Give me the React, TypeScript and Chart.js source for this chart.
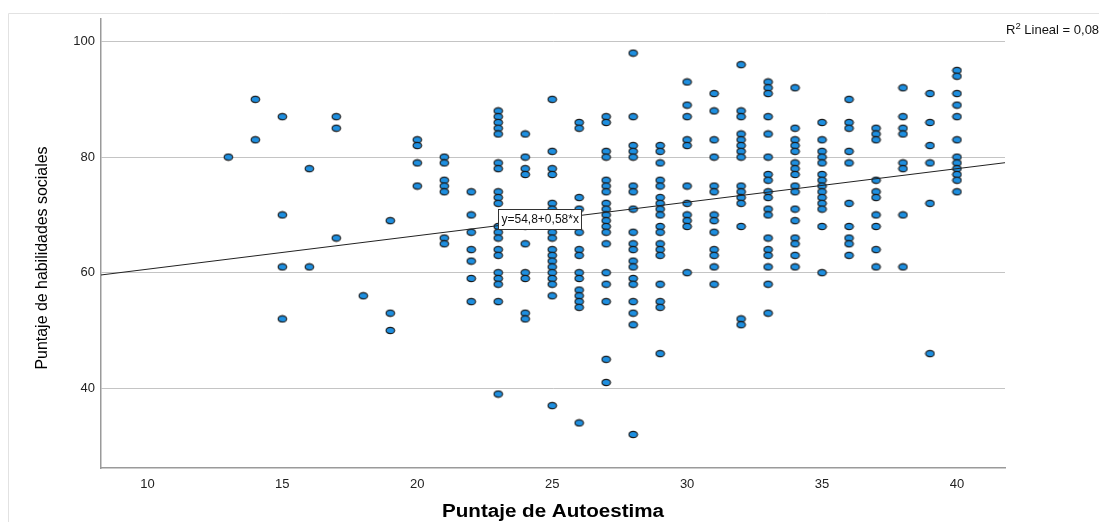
import React, { useEffect, useRef } from "react";
import { Chart, registerables } from "chart.js";

Chart.register(...registerables);

// Autoestima scores (x) and the habilidades sociales scores (y) observed at each
const autoestimaValues = [13, 14, 15, 16, 17, 18, 19, 20, 21, 22, 23, 24, 25, 26, 27, 28, 29, 30, 31, 32, 33, 34, 35, 36, 37, 38, 39, 40];
const habilidadesPorAutoestima = [
  [80],
  [90, 83],
  [87, 70, 61, 52],
  [78, 61],
  [87, 85, 66],
  [56],
  [69, 53, 50],
  [83, 82, 79, 75],
  [80, 79, 76, 75, 74, 66, 65],
  [74, 70, 67, 64, 62, 59, 55],
  [88, 87, 86, 85, 84, 79, 78, 74, 73, 72, 68, 67, 66, 64, 63, 60, 59, 58, 55, 39],
  [84, 80, 78, 77, 68, 65, 60, 59, 53, 52],
  [90, 81, 78, 77, 72, 71, 70, 67, 66, 64, 63, 62, 61, 60, 59, 58, 56, 37],
  [86, 85, 73, 71, 67, 64, 63, 60, 59, 57, 56, 55, 54, 34],
  [87, 86, 81, 80, 76, 75, 74, 72, 71, 70, 69, 68, 67, 65, 60, 58, 55, 45, 41],
  [98, 87, 82, 81, 80, 75, 74, 71, 67, 65, 64, 62, 61, 59, 58, 55, 53, 51, 32],
  [82, 81, 79, 76, 75, 73, 72, 71, 70, 68, 67, 65, 64, 63, 58, 55, 54, 46],
  [93, 89, 87, 83, 82, 75, 72, 70, 69, 68, 60],
  [91, 88, 83, 80, 75, 74, 70, 69, 67, 64, 63, 61, 58],
  [96, 88, 87, 84, 83, 82, 81, 80, 75, 74, 73, 72, 68, 52, 51],
  [93, 92, 91, 87, 84, 80, 77, 76, 74, 73, 71, 70, 66, 64, 63, 61, 58, 53],
  [92, 85, 83, 82, 81, 79, 78, 77, 75, 74, 71, 69, 66, 65, 63, 61],
  [86, 83, 81, 80, 79, 77, 76, 75, 74, 73, 72, 71, 68, 60],
  [90, 86, 85, 81, 79, 72, 68, 66, 65, 63],
  [85, 84, 83, 76, 74, 73, 70, 68, 64, 61],
  [92, 87, 85, 84, 79, 78, 70, 61],
  [91, 86, 82, 79, 72, 46],
  [95, 94, 91, 89, 87, 83, 80, 79, 78, 77, 76, 74],
];

const xTicks = [10, 15, 20, 25, 30, 35, 40];
const yTicks = [40, 60, 80, 100];
const xRange = [8.28, 41.78];
const yRange = [26.2, 103.9];

const intercept = 54.8;
const slope = 0.58;
const equationLabel = "y=54,8+0,58*x";
const r2Label = "0,08";
const xTitle = "Puntaje de Autoestima";
const yTitle = "Puntaje de habilidades sociales";

function makeMarker(): HTMLCanvasElement {
  const c = document.createElement("canvas");
  c.width = 11;
  c.height = 9;
  const ctx = c.getContext("2d")!;
  ctx.beginPath();
  ctx.ellipse(5.5, 4.5, 4.3, 3.1, 0, 0, Math.PI * 2);
  ctx.fillStyle = "#1e8fe0";
  ctx.fill();
  ctx.lineWidth = 1.1;
  ctx.strokeStyle = "#1a1a1a";
  ctx.stroke();
  return c;
}

function drawFitted(ctx: CanvasRenderingContext2D, text: string, x: number, y: number, width: number, rotate: boolean) {
  ctx.save();
  ctx.translate(x, y);
  if (rotate) ctx.rotate(-Math.PI / 2);
  const w = ctx.measureText(text).width;
  ctx.scale(width / w, 1);
  ctx.textAlign = "center";
  ctx.textBaseline = "middle";
  ctx.fillText(text, 0, 0);
  ctx.restore();
}

const decorPlugin = {
  id: "decor",
  beforeDraw(chart: any) {
    const { ctx, width, height } = chart;
    ctx.save();
    ctx.fillStyle = "#ffffff";
    ctx.fillRect(0, 0, width, height);
    ctx.strokeStyle = "#e2e2e2";
    ctx.lineWidth = 1;
    ctx.beginPath();
    ctx.moveTo(0.5, height);
    ctx.lineTo(0.5, 5.5);
    ctx.lineTo(width, 5.5);
    ctx.stroke();
    ctx.restore();
  },
  afterDraw(chart: any) {
    const { ctx, chartArea } = chart;
    const xs = chart.scales.x;
    const ys = chart.scales.y;
    ctx.save();
    ctx.fillStyle = "#000000";
    // x title
    ctx.font = "bold 18px 'Liberation Sans', Arial, sans-serif";
    drawFitted(ctx, xTitle, (chartArea.left + chartArea.right) / 2, 504, 222, false);
    // y title
    ctx.font = "500 17px 'Liberation Sans Narrow', 'Liberation Sans', Arial, sans-serif";
    drawFitted(ctx, yTitle, 34, 250, 223, true);

    // equation box
    ctx.font = "12px 'Liberation Sans', Arial, sans-serif";
    const bx = Math.round(xs.getPixelForValue(23)) + 0.5;
    const by = Math.round(ys.getPixelForValue(71)) + 0.5;
    const tw = ctx.measureText(equationLabel).width;
    const bw = Math.round(tw + 6);
    const bh = 20;
    ctx.fillStyle = "#ffffff";
    ctx.fillRect(bx, by, bw, bh);
    ctx.strokeStyle = "#333333";
    ctx.lineWidth = 1;
    ctx.strokeRect(bx, by, bw, bh);
    ctx.fillStyle = "#111111";
    ctx.textAlign = "left";
    ctx.textBaseline = "middle";
    ctx.fillText(equationLabel, bx + 3, by + bh / 2 + 0.5);

    // R² label
    const rx = chartArea.right + 1;
    const ry = 22;
    ctx.font = "13px 'Liberation Sans', Arial, sans-serif";
    ctx.textBaseline = "middle";
    ctx.fillStyle = "#111111";
    ctx.fillText("R", rx, ry);
    const rw = ctx.measureText("R").width;
    ctx.font = "9.5px 'Liberation Sans', Arial, sans-serif";
    ctx.fillText("2", rx + rw, ry - 4);
    const sw = ctx.measureText("2").width;
    ctx.font = "13px 'Liberation Sans', Arial, sans-serif";
    ctx.fillText(" Lineal = " + r2Label, rx + rw + sw, ry + 0.5);
    ctx.restore();
  },
};

export default function App() {
  const ref = useRef<HTMLCanvasElement | null>(null);
  useEffect(() => {
    if (!ref.current) return;
    const marker = makeMarker();
    const points: { x: number; y: number }[] = [];
    autoestimaValues.forEach((xv, i) => {
      habilidadesPorAutoestima[i].forEach((yv) => points.push({ x: xv, y: yv }));
    });
    const fit = xRange.map((xv) => ({ x: xv, y: intercept + slope * xv }));
    const chart = new Chart(ref.current, {
      type: "scatter",
      data: {
        datasets: [
          {
            data: fit,
            showLine: true,
            borderColor: "#222222",
            borderWidth: 1,
            pointRadius: 0,
            order: 0,
          } as any,
          {
            data: points,
            pointStyle: marker as any,
            pointRadius: 5,
            order: 1,
          },
        ],
      },
      options: {
        responsive: false,
        animation: false,
        events: [],
        layout: { padding: { left: 0, top: 11, right: 94, bottom: 0 } },
        plugins: { legend: { display: false }, tooltip: { enabled: false } },
        scales: {
          x: {
            type: "linear",
            min: xRange[0],
            max: xRange[1],
            afterBuildTicks: (s: any) => {
              s.ticks = xTicks.map((v) => ({ value: v }));
            },
            afterFit: (s: any) => {
              s.height = 54;
              s.paddingLeft = 0;
              s.paddingRight = 0;
            },
            grid: { display: false, drawTicks: false },
            border: { display: true, color: "#9a9a9a", width: 1.5 },
            ticks: {
              padding: 9,
              color: "#222222",
              font: { family: "'Liberation Sans', Arial, sans-serif", size: 13 },
            },
          },
          y: {
            type: "linear",
            min: yRange[0],
            max: yRange[1],
            afterBuildTicks: (s: any) => {
              s.ticks = yTicks.map((v) => ({ value: v }));
            },
            afterFit: (s: any) => {
              s.width = 93;
              s.paddingTop = 0;
              s.paddingBottom = 0;
            },
            grid: { color: "#c4c4c4", lineWidth: 1, drawTicks: false },
            border: { display: true, color: "#9a9a9a", width: 1.5 },
            ticks: {
              padding: 6,
              color: "#222222",
              font: { family: "'Liberation Sans', Arial, sans-serif", size: 13 },
            },
          },
        },
      },
      plugins: [decorPlugin],
    });
    return () => chart.destroy();
  }, []);
  return (
    <div style={{ width: 1091, height: 514 }}>
      <canvas ref={ref} width={1091} height={514} style={{ display: "block" }} />
    </div>
  );
}
